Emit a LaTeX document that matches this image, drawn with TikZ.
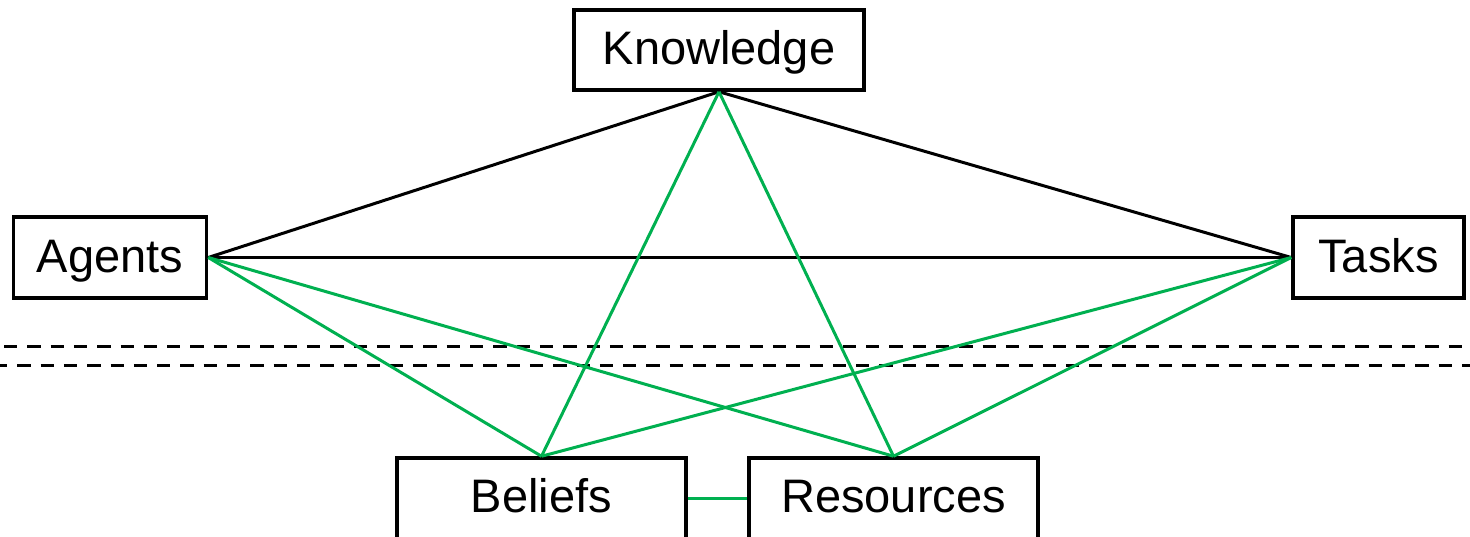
\documentclass[tikz,border=0pt]{standalone}
\usepackage{fontspec}
\setmainfont{Liberation Sans}
\definecolor{linkgreen}{RGB}{0,176,80}
\begin{document}
\begin{tikzpicture}[x=1pt,y=-1pt,
  conceptbox/.style={draw=black, line width=3.5pt, fill=white, inner sep=0pt,
    minimum height=80pt, text height=37pt, text depth=8pt,
    font=\fontsize{47}{56}\selectfont},
  lowbox/.style={conceptbox, minimum width=289pt, minimum height=92pt,
    text height=33pt, text depth=16pt},
  blackline/.style={draw=black, line width=3pt},
  greenline/.style={draw=linkgreen, line width=3pt},
  divider/.style={draw=black, line width=3pt, dash pattern=on 13.3pt off 10pt}]
  \useasboundingbox (0,0) rectangle (1470,536);

  % dashed separators
  \coordinate (d1a) at (4,346);
  \coordinate (d1b) at (1463,346);
  \coordinate (d2a) at (0,365);
  \coordinate (d2b) at (1470,365);
  \draw[divider] (d1a) -- (d1b);
  \draw[divider, dash phase=6pt] (d2a) -- (d2b);

  % concepts
  \node[conceptbox, minimum width=290pt] (know) at (719,50) {Knowledge};
  \node[conceptbox, minimum width=193pt, minimum height=81pt] (agents) at (110,257.5) {Agents};
  \node[conceptbox, minimum width=171pt, minimum height=81pt] (tasks) at (1378.5,257.5) {Tasks};
  \node[lowbox] (beliefs) at (541.5,504) {Beliefs};
  \node[lowbox] (res) at (893.5,504) {Resources};

  % upper triangle
  \draw[blackline] (know.south) -- (agents.east);
  \draw[blackline] (know.south) -- (tasks.west);
  \draw[blackline] (agents.east) -- (tasks.west);

  % links to the lower concepts
  \coordinate (bmid) at ([yshift=6pt]beliefs.east);
  \coordinate (rmid) at ([yshift=6pt]res.west);
  \draw[greenline] (know.south) -- (beliefs.north);
  \draw[greenline] (know.south) -- (res.north);
  \draw[greenline] (agents.east) -- (beliefs.north);
  \draw[greenline] (agents.east) -- (res.north);
  \draw[greenline] (tasks.west) -- (beliefs.north);
  \draw[greenline] (tasks.west) -- (res.north);
  \draw[greenline] (bmid) -- (rmid);
\end{tikzpicture}
\end{document}
